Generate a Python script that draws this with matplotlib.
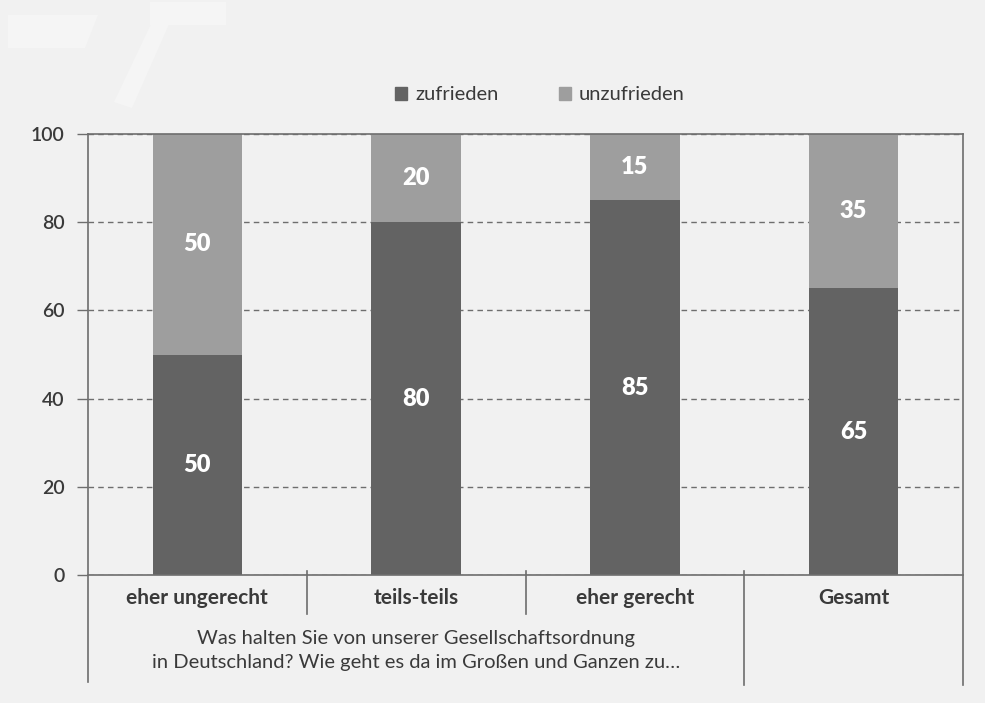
import matplotlib.pyplot as plt
from matplotlib.patches import Polygon
from matplotlib.lines import Line2D
import matplotlib.transforms as mtransforms

# Daten
kategorien = ["eher ungerecht", "teils-teils", "eher gerecht", "Gesamt"]
zufrieden = [50, 80, 85, 65]
unzufrieden = [50, 20, 15, 35]
frage = ("Was halten Sie von unserer Gesellschaftsordnung\n"
         "in Deutschland? Wie geht es da im Großen und Ganzen zu…")

DUNKEL = "#636363"
HELL = "#9e9e9e"
HINTERGRUND = "#f1f1f1"
TEXT = "#3a3a3a"
LINIE = "#6e6e6e"

plt.rcParams["font.family"] = ["Lato", "DejaVu Sans"]

fig = plt.figure(figsize=(9.85, 7.03), dpi=100, facecolor=HINTERGRUND)

# dezentes Wasserzeichen oben links
wm = "#f5f5f5"
for pts in [[(8, 15), (98, 15), (85, 48), (8, 48)],
            [(150, 2), (226, 2), (226, 25), (150, 25)],
            [(152, 22), (170, 22), (132, 108), (114, 102)]]:
    fig.patches.append(Polygon([(px / 985, 1 - py / 703) for px, py in pts], closed=True,
                               transform=fig.transFigure, facecolor=wm, edgecolor="none", zorder=0))

ax = fig.add_axes([88/985, 128/703, 875/985, 441/703])
ax.set_facecolor(HINTERGRUND)

x = list(range(len(kategorien)))
breite = 0.41
ax.bar(x, zufrieden, width=breite, color=DUNKEL, zorder=3)
ax.bar(x, unzufrieden, width=breite, bottom=zufrieden, color=HELL, zorder=3)

# Werte in die Balken
for i in x:
    ax.text(i, zufrieden[i] / 2, str(zufrieden[i]), ha="center", va="center",
            color="white", fontsize=17, fontweight="heavy", zorder=4)
    ax.text(i, zufrieden[i] + unzufrieden[i] / 2, str(unzufrieden[i]), ha="center", va="center",
            color="white", fontsize=17, fontweight="heavy", zorder=4)

ax.set_xlim(-0.5, 3.5)
ax.set_ylim(0, 100)
ax.set_yticks([0, 20, 40, 60, 80, 100])
ax.tick_params(axis="y", length=8, width=1, color=LINIE, labelcolor=TEXT, labelsize=14, pad=9)
for lbl in ax.get_yticklabels():
    lbl.set_fontweight("semibold")
ax.set_xticks([])
ax.yaxis.grid(True, linestyle=(0, (4, 3)), color=LINIE, linewidth=1)
ax.set_axisbelow(True)

for s in ["left", "right"]:
    ax.spines[s].set_visible(False)
for s in ["top", "bottom"]:
    ax.spines[s].set_color(LINIE)
    ax.spines[s].set_linewidth(1.2)
    ax.spines[s].set_zorder(5)

# senkrechte Linien und Trenner unter der Achse
trans = mtransforms.blended_transform_factory(ax.transData, ax.transAxes)
for xp, y0, y1 in [(-0.5, -0.243, 1.0), (3.5, -0.25, 1.0), (0.5, -0.088, 0.01),
                   (1.5, -0.088, 0.01), (2.5, -0.25, 0.01)]:
    ax.add_line(Line2D([xp, xp], [y0, y1], transform=trans, color=LINIE, linewidth=1.2, clip_on=False, zorder=5))

# Kategorienbeschriftung
for i, k in enumerate(kategorien):
    ax.text(i, -0.052, k, transform=trans, ha="center", va="center",
            fontsize=15, fontweight="bold", color=TEXT)

ax.text(1.0, -0.171, frage, transform=trans, ha="center", va="center",
        fontsize=14.5, color=TEXT, linespacing=1.55)

# Legende
handles = [plt.Rectangle((0, 0), 1, 1, color=DUNKEL), plt.Rectangle((0, 0), 1, 1, color=HELL)]
fig.legend(handles, ["zufrieden", "unzufrieden"], loc="center", bbox_to_anchor=(540/985, 1 - 95/703),
           ncol=2, frameon=False, fontsize=14.5, handlelength=0.6, handleheight=0.6,
           handletextpad=0.4, columnspacing=3.0, labelcolor=TEXT)

plt.savefig("out.png", dpi=100, facecolor=HINTERGRUND)
